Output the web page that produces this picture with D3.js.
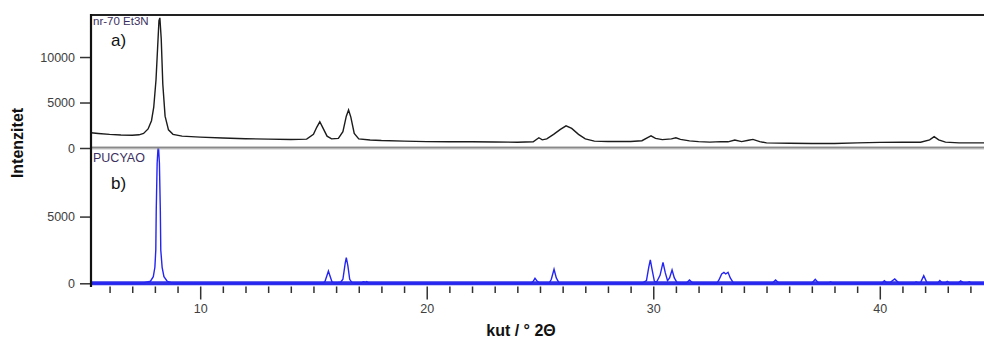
<!DOCTYPE html>
<html><head><meta charset="utf-8">
<script src="https://cdn.jsdelivr.net/npm/d3@7"></script>
<style>
html,body{margin:0;padding:0;background:#fff;}
svg{display:block;font-family:"Liberation Sans",Arial,sans-serif;}
</style></head>
<body><svg id="c" width="984" height="338"></svg>
<script>
// ---- data ----
const expX = [5.18,5.5,6.0,6.5,7.0,7.3,7.5,7.7,7.85,7.95,8.05,8.12,8.18,8.22,8.28,8.35,8.45,8.6,8.8,9.2,10,11,12,13,14,14.7,15.0,15.15,15.28,15.4,15.6,15.8,16.1,16.3,16.45,16.55,16.65,16.8,17.0,17.5,18,19,20,21,22,23,24,24.7,24.95,25.1,25.3,25.6,25.9,26.15,26.4,26.7,27.0,27.4,28,29,29.5,29.75,29.9,30.1,30.4,30.8,31.0,31.2,31.6,32,32.5,33.0,33.3,33.6,33.9,34.2,34.4,34.7,35,36,37,38,39,40,41,41.8,42.2,42.4,42.6,42.9,43.5,44.6];
const expY = [1680,1600,1500,1430,1400,1450,1600,2100,3000,4500,7500,11000,14000,14300,12000,7000,3500,2000,1500,1300,1200,1100,1020,980,930,980,1500,2300,2880,2300,1300,1000,1050,1800,3500,4180,3400,1600,1000,880,820,760,700,690,680,660,640,680,1130,900,1000,1500,2050,2440,2150,1500,1000,760,720,720,800,1150,1330,1050,920,1000,1120,950,780,700,650,700,680,880,700,850,950,700,560,520,500,500,560,620,640,640,900,1250,900,650,560,560];

const calcX = [5.18,7.4,7.5,7.8,7.93,8.0,8.04,8.06,8.1,8.15,8.2,8.24,8.26,8.32,8.4,8.55,8.75,8.9,15.4,15.5,15.6,15.66,15.72,15.82,15.9,16.0,16.2,16.3,16.4,16.45,16.52,16.6,16.7,16.9,17.1,17.2,17.3,17.35,17.45,24.6,24.7,24.78,24.88,25.0,25.4,25.5,25.62,25.72,25.85,29.5,29.7,29.8,29.87,29.94,30.05,30.15,30.3,30.43,30.53,30.63,30.72,30.83,30.93,31.05,31.2,31.45,31.6,31.75,32.8,32.9,33.02,33.12,33.2,33.3,33.4,33.55,35.25,35.4,35.55,37.0,37.15,37.3,37.7,37.83,37.95,40.1,40.2,40.3,40.45,40.66,40.85,41.5,41.6,41.7,41.8,41.94,42.08,42.2,42.55,42.65,42.75,42.9,42.98,43.1,43.45,43.57,43.7,43.85,43.95,44.05,44.6];
const calcY = [0,0,30,150,500,1200,2500,5500,9000,10500,9000,5500,2500,1200,500,150,30,0,0,100,600,920,600,100,30,30,80,300,1500,1920,1300,300,50,0,0,120,60,120,0,0,150,375,150,0,0,300,1050,400,0,0,200,1200,1750,1100,150,100,600,1575,800,200,400,1000,400,50,0,0,250,0,0,250,700,820,700,820,400,0,0,250,0,0,300,0,0,100,0,0,200,60,60,330,0,0,100,30,50,570,50,0,0,200,40,40,150,0,0,180,40,40,120,0,0];

const xDomain = [5.18, 44.6];
const majorTicks = [10,20,30,40];
const minorTicks = [6,7,8,9,11,12,13,14,15,16,17,18,19,21,22,23,24,25,26,27,28,29,31,32,33,34,35,36,37,38,39,41,42,43,44];
const topTicks = [0,5000,10000];
const botTicks = [0,5000];
const topMax = 14620, botMax = 10140;
const xTitle = "kut / ° 2Θ";
const yTitle = "Intenzitet";
const topName = "nr-70 Et3N", botName = "PUCYAO";

// ---- layout ----
const svg = d3.select("#c");
const L = 91, R = 984, T = 15, MID = 148, B = 283.3;
const x = d3.scaleLinear().domain(xDomain).range([L, R]);
const yT = d3.scaleLinear().domain([0, topMax]).range([MID, T]);
const yB = d3.scaleLinear().domain([0, botMax]).range([B, MID]);

const defs = svg.append("defs");
defs.append("clipPath").attr("id","cpT").append("rect").attr("x",L).attr("y",T).attr("width",R-L).attr("height",MID-T);
defs.append("clipPath").attr("id","cpB").append("rect").attr("x",L).attr("y",MID).attr("width",R-L).attr("height",B-MID+3);

// top pattern
const expData = expX.map((v,i)=>[v,expY[i]]);
svg.append("path").datum(expData).attr("clip-path","url(#cpT)")
  .attr("d", d3.line().x(d=>x(d[0])).y(d=>yT(d[1])))
  .attr("fill","none").attr("stroke","#1c1c1c").attr("stroke-width",1.4);

// bottom pattern
const calcData = calcX.map((v,i)=>[v,calcY[i]]);
svg.append("line").attr("x1",L).attr("x2",R).attr("y1",yB(0)).attr("y2",yB(0))
  .attr("stroke","#3030e6").attr("stroke-width",4);
svg.append("path").datum(calcData).attr("clip-path","url(#cpB)")
  .attr("d", d3.line().x(d=>x(d[0])).y(d=>yB(d[1])))
  .attr("fill","none").attr("stroke","#2424f5").attr("stroke-width",1.4);

// frame lines
svg.append("line").attr("x1",L).attr("x2",R).attr("y1",T).attr("y2",T).attr("stroke","#222").attr("stroke-width",2);
svg.append("line").attr("x1",L).attr("x2",R).attr("y1",MID-0.8).attr("y2",MID-0.8).attr("stroke","#555").attr("stroke-width",1);
svg.append("line").attr("x1",L).attr("x2",R).attr("y1",MID+0.8).attr("y2",MID+0.8).attr("stroke","#999").attr("stroke-width",1);

// left axes
function styleAxis(g){
  g.select(".domain").remove();
  g.selectAll(".tick line").attr("stroke","#333").attr("stroke-width",1.5);
  g.selectAll(".tick text").attr("fill","#404040").style("font-size","12.5px");
}
svg.append("g").attr("transform",`translate(${L},0)`)
  .call(d3.axisLeft(yT).tickValues(topTicks).tickSize(11).tickPadding(5).tickFormat(d3.format("d")))
  .call(styleAxis);
svg.append("g").attr("transform",`translate(${L},0)`)
  .call(d3.axisLeft(yB).tickValues(botTicks).tickSize(11).tickPadding(5).tickFormat(d3.format("d")))
  .call(styleAxis);

// bottom axis
const axY = 286.5;
svg.append("g").attr("transform",`translate(0,${axY})`)
  .call(d3.axisBottom(x).tickValues(minorTicks).tickSize(6.5).tickFormat(""))
  .call(styleAxis);
svg.append("g").attr("transform",`translate(0,${axY})`)
  .call(d3.axisBottom(x).tickValues(majorTicks).tickSize(13).tickPadding(5).tickFormat(d3.format("d")))
  .call(styleAxis);

// left spine
svg.append("line").attr("x1",L).attr("x2",L).attr("y1",T-1).attr("y2",axY+0.5).attr("stroke","#111").attr("stroke-width",2.2);

// texts
svg.append("text").attr("x",93).attr("y",25).text(topName).attr("fill","#3b3060").style("font-size","11.5px");
svg.append("text").attr("x",93).attr("y",161.5).text(botName).attr("fill","#3b3060").style("font-size","12.5px");
svg.append("text").attr("x",111).attr("y",46).text("a)").attr("fill","#111").style("font-size","17px");
svg.append("text").attr("x",111).attr("y",189).text("b)").attr("fill","#111").style("font-size","17px");

svg.append("text").attr("x",521).attr("y",336).attr("text-anchor","middle")
  .text(xTitle).attr("fill","#111").style("font-size","16px").style("font-weight","bold");
svg.append("text").attr("transform","translate(23,143) rotate(-90)").attr("text-anchor","middle")
  .text(yTitle).attr("fill","#111").style("font-size","16px").style("font-weight","bold");
</script></body></html>
